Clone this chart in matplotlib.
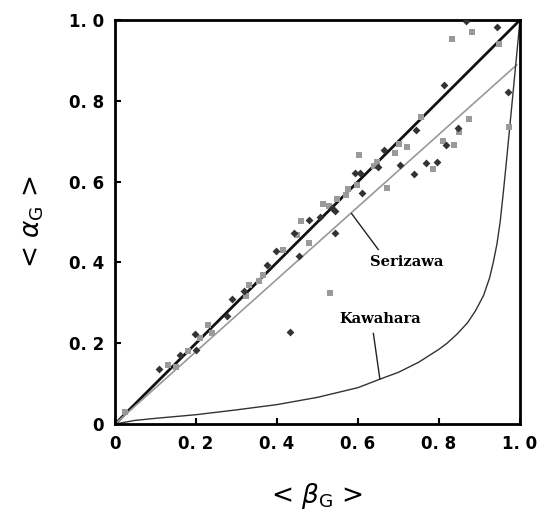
import matplotlib
matplotlib.use('Agg')
import matplotlib.pyplot as plt

dark_beta = [0.109, 0.160, 0.198, 0.200, 0.276, 0.290, 0.319, 0.375, 0.398, 0.431, 0.442, 0.454,
             0.480, 0.506, 0.535, 0.543, 0.543, 0.593, 0.605, 0.609, 0.649, 0.663, 0.704, 0.739,
             0.743, 0.768, 0.796, 0.812, 0.817, 0.848, 0.866, 0.942, 0.970]
dark_alpha = [0.135, 0.172, 0.224, 0.183, 0.267, 0.309, 0.328, 0.394, 0.428, 0.227, 0.474, 0.416,
              0.505, 0.513, 0.534, 0.528, 0.472, 0.622, 0.622, 0.573, 0.637, 0.677, 0.641, 0.618,
              0.728, 0.645, 0.649, 0.839, 0.691, 0.732, 0.998, 0.982, 0.822]

gray_beta = [0.025, 0.132, 0.151, 0.181, 0.210, 0.230, 0.239, 0.323, 0.331, 0.356, 0.365, 0.416,
             0.449, 0.459, 0.480, 0.514, 0.529, 0.531, 0.547, 0.570, 0.576, 0.597, 0.603, 0.640,
             0.646, 0.671, 0.691, 0.702, 0.720, 0.755, 0.786, 0.809, 0.833, 0.837, 0.850, 0.874,
             0.882, 0.948, 0.973]
gray_alpha = [0.029, 0.146, 0.140, 0.181, 0.212, 0.245, 0.226, 0.318, 0.343, 0.355, 0.370, 0.431,
              0.468, 0.503, 0.447, 0.545, 0.540, 0.324, 0.556, 0.567, 0.581, 0.592, 0.665, 0.639,
              0.649, 0.585, 0.672, 0.692, 0.686, 0.759, 0.631, 0.700, 0.953, 0.691, 0.724, 0.756,
              0.970, 0.940, 0.734]

# correlation curves
ideal_beta = [0.0, 1.0]
ideal_alpha = [0.0, 1.0]
seri_beta = [0.0, 0.992]
seri_alpha = [0.0, 0.889]
kawa_beta = [0.0, 0.05, 0.1, 0.2, 0.3, 0.4, 0.5, 0.6, 0.654, 0.7, 0.75, 0.8, 0.82, 0.844,
             0.87, 0.89, 0.91, 0.925, 0.934, 0.943, 0.951, 0.959, 0.967, 0.979, 0.99, 1.0]
kawa_alpha = [0.0, 0.009, 0.014, 0.023, 0.035, 0.048, 0.066, 0.09, 0.111, 0.128, 0.153, 0.185,
              0.2, 0.222, 0.25, 0.28, 0.318, 0.362, 0.40, 0.445, 0.50, 0.575, 0.655, 0.78,
              0.895, 1.0]

ticks = [0, 0.2, 0.4, 0.6, 0.8, 1.0]
tick_labels = ['0', '0. 2', '0. 4', '0. 6', '0. 8', '1. 0']

fig = plt.figure(figsize=(5.43, 5.21), dpi=100)
ax = fig.add_axes([115/543, 97/521, 405/543, 404/521])

ax.plot(ideal_beta, ideal_alpha, color='#111111', lw=2.0, zorder=2)
ax.plot(seri_beta, seri_alpha, color='#999999', lw=1.2, zorder=2)
ax.plot(kawa_beta, kawa_alpha, color='#333333', lw=1.0, zorder=2)

ax.scatter(gray_beta, gray_alpha, marker='s', s=18, color='#9a9a9a', zorder=3, linewidths=0)
ax.scatter(dark_beta, dark_alpha, marker='D', s=16, color='#333333', zorder=4, linewidths=0)

# labels with leader lines
ax.plot([0.584, 0.650], [0.521, 0.432], color='#222222', lw=1.0)
ax.text(0.721, 0.401, 'Serizawa', family='DejaVu Serif', fontweight='bold', fontsize=10.5,
        ha='center', va='center')
ax.plot([0.638, 0.654], [0.224, 0.111], color='#222222', lw=1.0)
ax.text(0.654, 0.260, 'Kawahara', family='DejaVu Serif', fontweight='bold', fontsize=10.5,
        ha='center', va='center')

ax.set_xlim(0, 1)
ax.set_ylim(0, 1)
ax.set_xticks(ticks)
ax.set_xticklabels(tick_labels)
ax.set_yticks(ticks)
ax.set_yticklabels(tick_labels)
ax.tick_params(direction='in', length=4, width=1.5, labelsize=12, pad=8)
for lab in ax.get_xticklabels() + ax.get_yticklabels():
    lab.set_fontweight('bold')
    lab.set_family('Liberation Sans Narrow')
for sp in ax.spines.values():
    sp.set_linewidth(2)

ax.set_xlabel(r'< $\beta_{\mathrm{G}}$ >', fontsize=19, labelpad=20)
ax.set_ylabel(r'< $\alpha_{\mathrm{G}}$ >', fontsize=19, labelpad=16)

fig.savefig('out.png', dpi=100)
